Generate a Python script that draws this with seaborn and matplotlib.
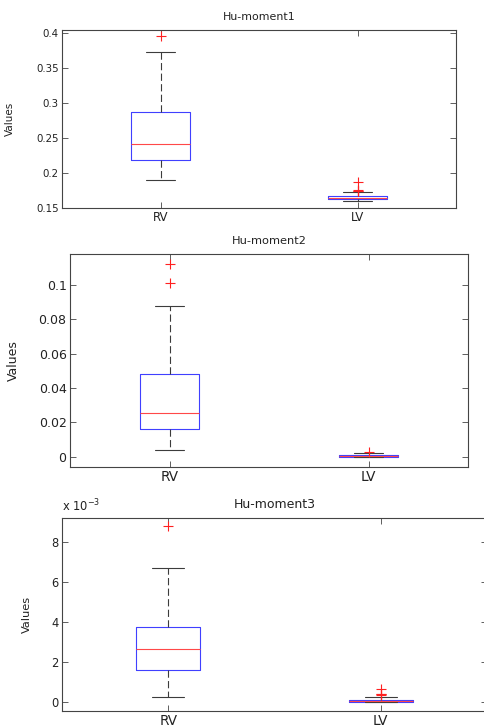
import numpy as np
import pandas as pd
import matplotlib
matplotlib.use("Agg")
import matplotlib.pyplot as plt
import seaborn as sns
from matplotlib.ticker import FuncFormatter

# ---- data (sample values chosen to reproduce the box statistics)
groups = ["RV", "LV"]
titles = ["Hu-moment1", "Hu-moment2", "Hu-moment3"]

m1_rv = [0.190, 0.205, 0.2185, 0.230, 0.2415, 0.262, 0.287, 0.373, 0.396]
m1_lv = [0.1600, 0.1604, 0.1608, 0.1612, 0.1616, 0.1620, 0.1623, 0.1626, 0.1629,
         0.1632, 0.1634, 0.1640, 0.1646, 0.1652, 0.1657, 0.1662, 0.1716,
         0.1732, 0.1742, 0.1752, 0.1866]

m2_rv = [0.0039, 0.008, 0.012, 0.016, 0.019, 0.022, 0.0253, 0.030, 0.038,
         0.0482, 0.0878, 0.1013, 0.1120]
m2_lv = [0.0, 0.00005, 0.0001, 0.0002, 0.0004, 0.0006, 0.0009, 0.0020, 0.0027]

m3_rv = [0.00027, 0.0010, 0.0016, 0.0021, 0.00267, 0.0032, 0.00378, 0.0067, 0.00878]
m3_lv = [0.0, 0.0, 0.0, 0.0, 0.0, 0.0, 0.00001, 0.00002, 0.00003, 0.00004,
         0.00005, 0.00007, 0.00009, 0.00011, 0.00012, 0.00014, 0.00027,
         0.00036, 0.00040, 0.00044, 0.00065]

yticks1 = [0.15, 0.2, 0.25, 0.3, 0.35, 0.4]
yticks2 = [0, 0.02, 0.04, 0.06, 0.08, 0.1]
yticks3 = [0, 0.002, 0.004, 0.006, 0.008]

sns.set_style("ticks")
plt.rcParams["font.family"] = ["DejaVu Sans"]

W, H = 484, 727
fig = plt.figure(figsize=(W / 100, H / 100), dpi=100)


def px_axes(l, t, r, b):
    return fig.add_axes([l / W, 1 - b / H, (r - l) / W, (b - t) / H])


panels = [
    dict(rect=(62, 30, 456, 207.5), rv=m1_rv, lv=m1_lv, ylim=(0.15, 0.405),
         yticks=yticks1, fs=7.4, xfs=8.5, lfs=7.5, tfs=7.9, pad=7.5, ylx=-0.119, scale=1),
    dict(rect=(70, 254, 468, 467), rv=m2_rv, lv=m2_lv, ylim=(-0.006, 0.118),
         yticks=yticks2, fs=9, xfs=9.8, lfs=9, tfs=8.2, pad=7.5, ylx=-0.126, scale=1),
    dict(rect=(62, 518, 487, 711), rv=m3_rv, lv=m3_lv, ylim=(-0.00043, 0.0092),
         yticks=yticks3, fs=8.3, xfs=9.8, lfs=8.2, tfs=9, pad=7, ylx=-0.071, scale=1e3),
]

edge = "#444444"
for p, title in zip(panels, titles):
    ax = px_axes(*p["rect"])
    df = pd.DataFrame({
        "group": ["RV"] * len(p["rv"]) + ["LV"] * len(p["lv"]),
        "value": list(p["rv"]) + list(p["lv"]),
    })
    sns.boxplot(
        data=df, x="group", y="value", order=groups, ax=ax,
        width=0.3, fill=False, whis=1.5, linewidth=0.8,
        boxprops=dict(color="#4040ff"),
        medianprops=dict(color="#ff4848"),
        whiskerprops=dict(color="#3c3c3c", linestyle=(0, (6.5, 3))),
        capprops=dict(color="#3c3c3c"),
        flierprops=dict(marker="+", markeredgecolor="#ff2020",
                        markersize=7, markeredgewidth=0.8),
    )
    ax.set_xlim(-0.5, 1.5)
    ax.set_ylim(*p["ylim"])
    ax.set_yticks(p["yticks"])
    sc = p["scale"]
    ax.yaxis.set_major_formatter(FuncFormatter(lambda v, pos, sc=sc: f"{round(v * sc, 6):g}"))
    ax.set_xlabel("")
    ax.set_ylabel("Values", fontsize=p["lfs"], color="#222222")
    ax.yaxis.set_label_coords(p["ylx"], 0.5)
    ax.set_title(title, fontsize=p["tfs"], pad=p["pad"], color="#222222")
    ax.tick_params(direction="in", top=True, right=True, length=4, width=0.6,
                   colors=edge, labelcolor="#222222", pad=2.5)
    ax.tick_params(axis="y", labelsize=p["fs"])
    ax.tick_params(axis="x", labelsize=p["xfs"])
    for s in ax.spines.values():
        s.set_color(edge)
        s.set_linewidth(0.8)
        s.set_visible(True)

fig.text(62 / W, 1 - 511 / H, r"x 10$^{-3}$", fontsize=8.3, color="#222222",
         ha="left", va="baseline")

fig.savefig("out.png", dpi=100)
